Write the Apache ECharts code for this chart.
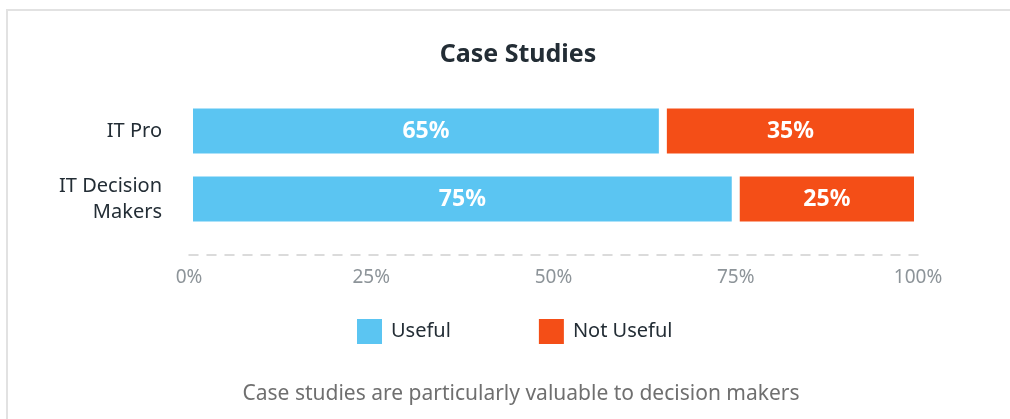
<!DOCTYPE html>
<html>
<head>
<meta charset="utf-8">
<script src="https://cdn.jsdelivr.net/npm/echarts@6/dist/echarts.min.js"></script>
<style>
  html, body { margin: 0; padding: 0; background: #fff; }
  #wrap { position: relative; width: 1010px; height: 419px; overflow: hidden; }
  #frame { position: absolute; left: 6px; top: 9px; right: -10px; bottom: -10px;
           border-top: 2px solid #e2e2e2; border-left: 2px solid #e2e2e2; }
  #chart { position: absolute; left: 0; top: 0; width: 1010px; height: 419px; }
</style>
</head>
<body>
<div id="wrap">
  <div id="frame"></div>
  <div id="chart"></div>
</div>
<script>
const categories = ['IT Pro', 'IT Decision\nMakers'];
const useful = [65, 75];
const notUseful = [35, 25];
const tickLabels = ['0%', '25%', '50%', '75%', '100%'];

const FONT = '"Noto Sans", "DejaVu Sans", sans-serif';

const myChart = echarts.init(document.getElementById('chart'), null, { renderer: 'canvas' });

const barLabel = {
    show: true,
    position: 'inside',
    formatter: '{c}%',
    color: '#fff',
    fontFamily: FONT,
    fontSize: 23,
    fontWeight: 'bold'
};

const option = {
    animation: false,
    title: {
        text: 'Case Studies',
        left: 513,
        textAlign: 'center',
        top: 37,
        textStyle: { fontFamily: FONT, fontSize: 25, fontWeight: 'bold', color: '#232d35' }
    },
    legend: {
        data: ['Useful', 'Not Useful'],
        left: 355,
        top: 317,
        padding: 0,
        itemWidth: 27,
        itemHeight: 27,
        itemGap: 86,
        icon: 'rect',
        textStyle: { fontFamily: FONT, fontSize: 20, color: '#232d35', padding: [0, 0, 0, 3] }
    },
    graphic: [{
        type: 'text',
        x: 521,
        y: 384,
        style: {
            text: 'Case studies are particularly valuable to decision makers',
            align: 'center',
            fontFamily: FONT,
            fontSize: 21,
            fill: '#6f6f6f'
        }
    }],
    grid: { left: 189, right: 92, top: 97, height: 136 },
    xAxis: {
        type: 'value',
        min: 0,
        max: 100,
        interval: 25,
        offset: 22,
        axisLine: { show: true, lineStyle: { color: '#cfcfcf', type: [9, 9], width: 1.5 } },
        axisTick: { show: false },
        splitLine: { show: false },
        axisLabel: {
            margin: 13,
            fontFamily: FONT,
            fontSize: 19,
            color: '#8d9499',
            formatter: function (v) { return tickLabels[v / 25]; }
        }
    },
    yAxis: {
        type: 'category',
        inverse: true,
        data: categories,
        axisLine: { show: false },
        axisTick: { show: false },
        axisLabel: {
            margin: 27,
            fontFamily: FONT,
            fontSize: 20,
            lineHeight: 26,
            color: '#232d35',
            align: 'right'
        }
    },
    series: [
        {
            name: 'Useful',
            type: 'bar',
            stack: 'total',
            barWidth: 53,
            data: useful,
            itemStyle: { color: '#5bc5f2', borderColor: '#fff', borderWidth: 4 },
            label: barLabel
        },
        {
            name: 'Not Useful',
            type: 'bar',
            stack: 'total',
            barWidth: 53,
            data: notUseful,
            itemStyle: { color: '#f44e17', borderColor: '#fff', borderWidth: 4 },
            label: barLabel
        }
    ]
};

myChart.setOption(option);
</script>
</body>
</html>
